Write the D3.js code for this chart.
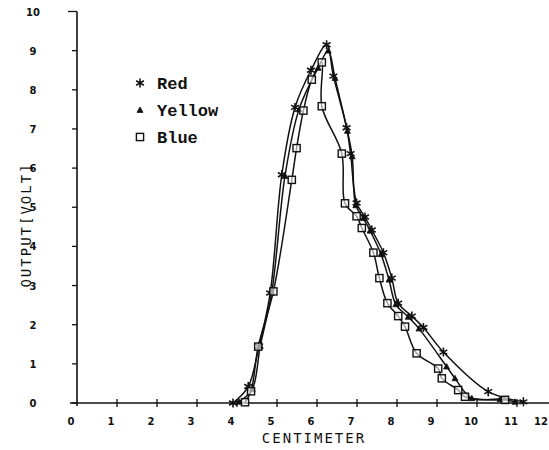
<!DOCTYPE html>
<html>
<head>
<meta charset="utf-8">
<script src="https://cdn.jsdelivr.net/npm/d3@7"></script>
<style>
  body { margin: 0; background: #fff; }
  svg { display: block; }
  .tick-label { font-family: "DejaVu Sans", sans-serif; font-weight: bold; font-size: 10px; fill: #111; }
  .title { font-family: "DejaVu Sans Mono", monospace; font-size: 14px; fill: #111; letter-spacing: 2px; }
  .legend { font-family: "Liberation Mono", monospace; font-weight: bold; font-size: 17px; fill: #111; }
</style>
</head>
<body>
<svg id="chart"></svg>
<script>
"use strict";

const W = 549, H = 450;

const xTicks = [0, 1, 2, 3, 4, 5, 6, 7, 8, 9, 10, 11, 12];
const yTicks = [0, 1, 2, 3, 4, 5, 6, 7, 8, 9, 10];

const seriesNames = ["Red", "Yellow", "Blue"];

const redPts = [
  [3.9, 0], [4.28, 0.42], [4.55, 1.45], [4.83, 2.81], [5.12, 5.83], [5.45, 7.55],
  [5.85, 8.5], [6.24, 9.15], [6.41, 8.35], [6.74, 7.03], [6.84, 6.37], [6.99, 5.11],
  [7.2, 4.75], [7.37, 4.42], [7.66, 3.84], [7.87, 3.19], [8.03, 2.55], [8.37, 2.22],
  [8.66, 1.93], [9.16, 1.3], [10.28, 0.29], [11.16, 0.03]
];
const yellowPts = [
  [4.05, 0.03], [4.38, 0.35], [4.58, 1.45], [4.87, 2.83], [5.2, 5.8], [5.55, 7.5],
  [6.03, 8.56], [6.28, 9.0], [6.45, 8.3], [6.76, 6.95], [6.88, 6.3], [6.97, 5.05],
  [7.16, 4.72], [7.33, 4.4], [7.6, 3.8], [7.8, 3.15], [7.97, 2.52], [8.28, 2.2],
  [8.55, 1.9], [9.24, 0.93], [9.45, 0.63], [9.87, 0.12], [10.58, 0.1], [10.95, 0.03]
];
const bluePts = [
  [4.2, 0.02], [4.35, 0.3], [4.53, 1.44], [4.91, 2.85], [5.37, 5.7], [5.49, 6.51],
  [5.66, 7.47], [5.87, 8.26], [6.12, 8.7], [6.12, 7.58], [6.62, 6.37], [6.7, 5.1],
  [6.99, 4.77], [7.12, 4.47], [7.41, 3.84], [7.56, 3.19], [7.76, 2.55], [8.03, 2.22],
  [8.2, 1.95], [8.49, 1.27], [9.03, 0.88], [9.12, 0.63], [9.53, 0.33], [9.7, 0.16],
  [10.7, 0.08]
];

const chart = d3.select('#chart').attr('width', W).attr('height', H);

const x = d3.scaleLinear().domain([0, 12]).range([77, 557]);
const y = d3.scaleLinear().domain([0, 10]).range([403, 11.5]);

// axes (hand drawn so ticks match the old plotter look)
chart.append('line')
  .attr('x1', x(0)).attr('x2', x(0))
  .attr('y1', y(10)).attr('y2', y(0) + 3)
  .attr('stroke', '#111').attr('stroke-width', 1.6);
chart.append('line')
  .attr('x1', x(0) - 7).attr('x2', W)
  .attr('y1', y(0)).attr('y2', y(0))
  .attr('stroke', '#111').attr('stroke-width', 1.6);

chart.selectAll('.ytick').data(yTicks).enter()
  .append('line').attr('class', 'ytick')
  .attr('x1', d => d === 10 ? x(0) - 9 : x(0) - 5).attr('x2', x(0))
  .attr('y1', d => y(d)).attr('y2', d => y(d))
  .attr('stroke', '#111').attr('stroke-width', 1.3);

chart.selectAll('.ylab').data(yTicks).enter()
  .append('text').attr('class', 'tick-label')
  .attr('x', 33).attr('y', d => y(d) + 4)
  .attr('text-anchor', 'middle')
  .text(d => d);

chart.selectAll('.xtick').data(xTicks.slice(1)).enter()
  .append('line').attr('class', 'xtick')
  .attr('x1', d => x(d)).attr('x2', d => x(d))
  .attr('y1', y(0) - 4).attr('y2', y(0) + 4)
  .attr('stroke', '#111').attr('stroke-width', 1.3);

// last label sits at the right edge; keep it inside the frame
chart.selectAll('.xlab').data(xTicks).enter()
  .append('text').attr('class', 'tick-label')
  .attr('x', d => Math.min(x(d) - 6, W - 8))
  .attr('y', 425)
  .attr('text-anchor', 'middle')
  .text(d => d);

chart.append('text').attr('class', 'title')
  .attr('x', 314).attr('y', 443)
  .attr('text-anchor', 'middle')
  .text('CENTIMETER');

chart.append('text').attr('class', 'title')
  .attr('transform', 'translate(31,225) rotate(-90)')
  .attr('text-anchor', 'middle')
  .text('OUTPUT[VOLT]');

// markers
function star(g, r) {
  const a = Math.PI / 6;
  g.append('path')
    .attr('d', `M0,${-r}V${r}` +
      `M${-r * Math.cos(a)},${-r * Math.sin(a)}L${r * Math.cos(a)},${r * Math.sin(a)}` +
      `M${-r * Math.cos(a)},${r * Math.sin(a)}L${r * Math.cos(a)},${-r * Math.sin(a)}`)
    .attr('stroke', '#111').attr('stroke-width', 1.6).attr('fill', 'none');
}
function tri(g, r) {
  g.append('path')
    .attr('d', `M0,${-r}L${r},${r * 0.8}L${-r},${r * 0.8}Z`)
    .attr('fill', '#111').attr('stroke', '#111').attr('stroke-width', 0.8);
}
function sq(g, r) {
  g.append('rect')
    .attr('x', -r).attr('y', -r).attr('width', 2 * r).attr('height', 2 * r)
    .attr('fill', '#fff').attr('fill-opacity', 0.6)
    .attr('stroke', '#111').attr('stroke-width', 1.4);
}

const series = [
  { name: seriesNames[0], pts: redPts, mark: g => star(g, 4.5) },
  { name: seriesNames[1], pts: yellowPts, mark: g => tri(g, 3) },
  { name: seriesNames[2], pts: bluePts, mark: g => sq(g, 3.6) }
];

const line = d3.line()
  .x(d => x(d[0])).y(d => y(d[1]))
  .curve(d3.curveCatmullRom.alpha(0.5));

series.forEach(s => {
  chart.append('path')
    .attr('d', line(s.pts))
    .attr('fill', 'none').attr('stroke', '#111').attr('stroke-width', 1.5);
});

series.forEach(s => {
  chart.selectAll(null).data(s.pts).enter()
    .append('g')
    .attr('transform', d => `translate(${x(d[0])},${y(d[1])})`)
    .each(function () { s.mark(d3.select(this)); });
});

// legend
const legend = chart.selectAll('.leg').data(series).enter()
  .append('g').attr('class', 'leg')
  .attr('transform', (d, i) => `translate(140,${83 + i * 27})`);
legend.each(function (d) { d.mark(d3.select(this)); });
legend.append('text').attr('class', 'legend')
  .attr('x', 17).attr('y', 6)
  .text(d => d.name);
</script>
</body>
</html>
